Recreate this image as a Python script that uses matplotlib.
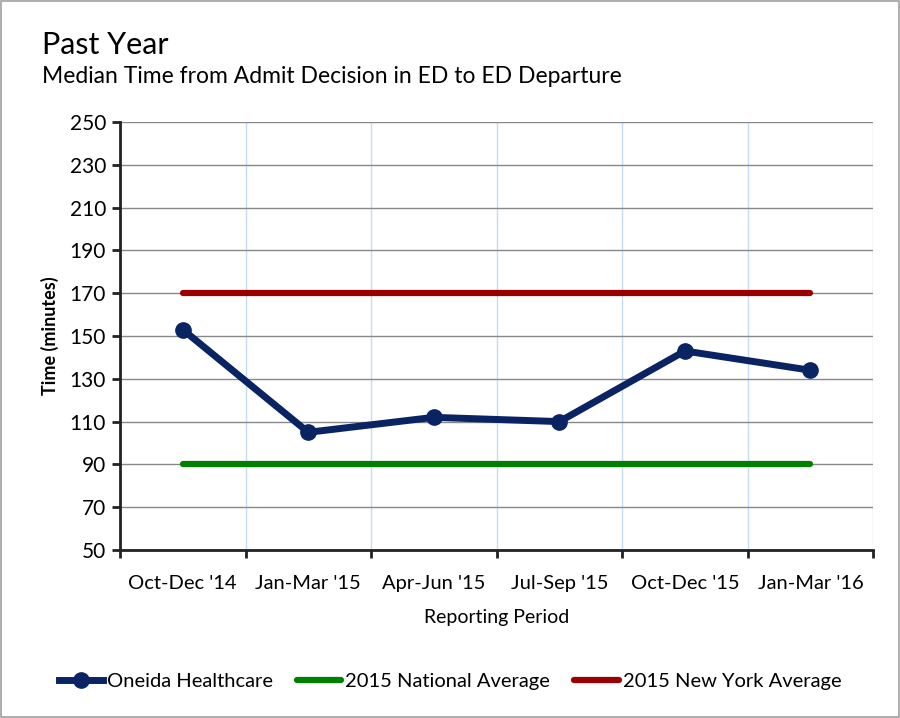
import matplotlib
matplotlib.use("Agg")
import matplotlib.pyplot as plt
from matplotlib.patches import Rectangle

periods = ["Oct-Dec '14", "Jan-Mar '15", "Apr-Jun '15", "Jul-Sep '15", "Oct-Dec '15", "Jan-Mar '16"]
oneida = [153, 105, 112, 110, 143, 134]
national = [90] * 6
new_york = [170] * 6
yticks = list(range(50, 251, 20))

plt.rcParams['font.family'] = ['Lato', 'DejaVu Sans']

fig = plt.figure(figsize=(9, 7.18), dpi=100)
fig.patches.append(Rectangle((0.001, 0.001), 0.998, 0.998, transform=fig.transFigure,
                             fill=False, edgecolor='#a0a0a0', linewidth=1.2))
ax = fig.add_axes([0.1333, 0.234, 0.837, 0.596])

x = list(range(len(periods)))
ax.plot(x, new_york, color='#990000', linewidth=4.5, solid_capstyle='round', label='2015 New York Average', zorder=3)
ax.plot(x, national, color='#008000', linewidth=4.5, solid_capstyle='round', label='2015 National Average', zorder=3)
ax.plot(x, oneida, color='#0a2463', linewidth=5, marker='o', markersize=11, label='Oneida Healthcare', zorder=4)

ax.set_xlim(-0.5, len(periods) - 0.5)
ax.set_ylim(50, 250)
ax.set_yticks(yticks)
ax.set_xticks([i - 0.5 for i in range(len(periods) + 1)], minor=False)
ax.set_xticklabels([])
ax.set_xticks(x, minor=True)
ax.set_xticklabels(periods, minor=True, fontsize=14.5)
ax.tick_params(axis='x', which='minor', length=0, pad=18)
ax.tick_params(axis='x', which='major', length=6, width=2, direction='out', color='#222222')
ax.tick_params(axis='y', length=6, width=2, direction='out', color='#222222', labelsize=15, pad=4)

ax.grid(axis='y', color='#888888', linewidth=1)
ax.grid(axis='x', which='major', color='#c6dcf5', linewidth=1)
ax.set_axisbelow(True)
for s in ['top', 'right']:
    ax.spines[s].set_visible(False)
for s in ['left', 'bottom']:
    ax.spines[s].set_linewidth(2)
    ax.spines[s].set_color('#222222')

ax.set_xlabel('Reporting Period', fontsize=14, labelpad=12)
ax.set_ylabel('Time (minutes)', fontsize=13, fontweight='bold', labelpad=8)

fig.text(0.047, 0.938, 'Past Year', fontsize=22, va='center')
fig.text(0.047, 0.893, 'Median Time from Admit Decision in ED to ED Departure', fontsize=16.5, va='center')

h, l = ax.get_legend_handles_labels()
order = [2, 1, 0]
fig.legend([h[i] for i in order], [l[i] for i in order], loc='center', bbox_to_anchor=(0.5, 0.051),
           ncol=3, frameon=False, fontsize=14.5, handlelength=2.2, handletextpad=0.2, columnspacing=1.2)

fig.savefig('out.png', dpi=100)
